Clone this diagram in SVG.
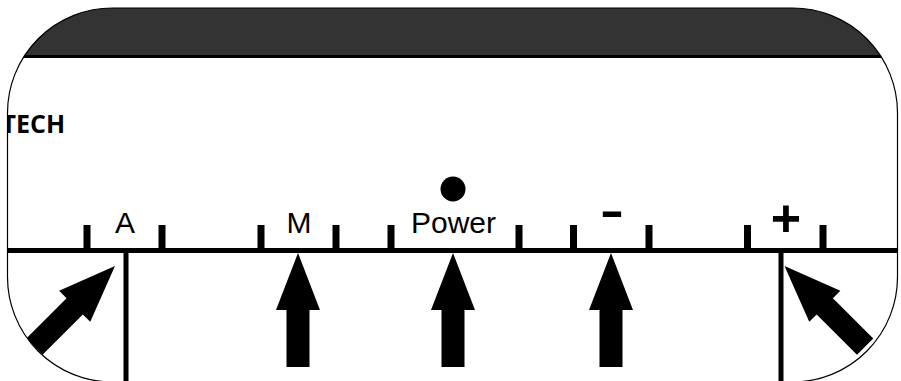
<svg xmlns="http://www.w3.org/2000/svg" width="901" height="381" viewBox="0 0 901 381">
  <style>
    .lbl { font-family: "Liberation Sans", Arial, sans-serif; font-size: 30px; fill: #000; text-anchor: middle; }
    .sym { font-family: "Liberation Sans", Arial, sans-serif; font-weight: bold; fill: #000; text-anchor: middle; }
    .brand { font-family: "Open Sans", "Noto Sans", sans-serif; font-weight: bold; font-size: 25px; fill: #000; }
    .tick { fill: #000; }
    .bar { stroke: #000; stroke-width: 5; fill: none; }
    .arrow { fill: #000; }
  </style>
  <defs>
    <clipPath id="body">
      <rect x="7.5" y="8" width="890" height="374" rx="105" ry="105"/>
    </clipPath>
    <path id="arr" d="M0,0 L22,57 L11.5,57 L11.5,114 L-11.5,114 L-11.5,57 L-22,57 Z"/>
  </defs>

  <g id="panel">
    <rect x="7.5" y="8" width="890" height="374" rx="105" ry="105" fill="#fff"/>
    <rect x="0" y="8" width="901" height="49" fill="#333" clip-path="url(#body)"/>
    <line x1="0" y1="56.5" x2="901" y2="56.5" stroke="#000" stroke-width="3" clip-path="url(#body)"/>
    <rect x="7.5" y="8" width="890" height="374" rx="105" ry="105" fill="none" stroke="#000" stroke-width="1.2"/>
    <text class="brand" x="1.5" y="132.7" clip-path="url(#body)">TECH</text>
  </g>

  <g id="scale">
    <line class="bar" x1="7.5" y1="250.5" x2="897.5" y2="250.5"/>
    <rect class="tick" x="83.5" y="225" width="7" height="25"/>
    <rect class="tick" x="158.5" y="225" width="7" height="25"/>
    <rect class="tick" x="257.5" y="225" width="7" height="25"/>
    <rect class="tick" x="332.5" y="225" width="7" height="25"/>
    <rect class="tick" x="387.5" y="225" width="7" height="25"/>
    <rect class="tick" x="515.5" y="225" width="7" height="25"/>
    <rect class="tick" x="570" y="225" width="7" height="25"/>
    <rect class="tick" x="645.5" y="225" width="7" height="25"/>
    <rect class="tick" x="744" y="225" width="7" height="25"/>
    <rect class="tick" x="819.5" y="225" width="7" height="25"/>
  </g>

  <g id="button-A">
    <text class="lbl" x="125" y="233">A</text>
  </g>
  <g id="button-M">
    <text class="lbl" x="299" y="233">M</text>
  </g>
  <g id="button-power">
    <circle cx="453" cy="189" r="12.5" fill="#000"/>
    <text class="lbl" x="453.5" y="233">Power</text>
  </g>
  <g id="button-minus">
    <text class="sym" x="612" y="226.3" font-size="46" textLength="24" lengthAdjust="spacingAndGlyphs">-</text>
  </g>
  <g id="button-plus">
    <text class="sym" x="786" y="235.6" font-size="52">+</text>
  </g>

  <g id="connectors">
    <line class="bar" x1="126" y1="250" x2="126" y2="381"/>
    <line class="bar" x1="781" y1="250" x2="781" y2="381"/>
    <g clip-path="url(#body)">
      <use href="#arr" class="arrow" transform="translate(115,266) rotate(45)"/>
      <use href="#arr" class="arrow" transform="translate(784.5,266) rotate(-45)"/>
    </g>
    <use href="#arr" class="arrow" transform="translate(298,253)"/>
    <use href="#arr" class="arrow" transform="translate(453,253)"/>
    <use href="#arr" class="arrow" transform="translate(611,253)"/>
  </g>
</svg>
